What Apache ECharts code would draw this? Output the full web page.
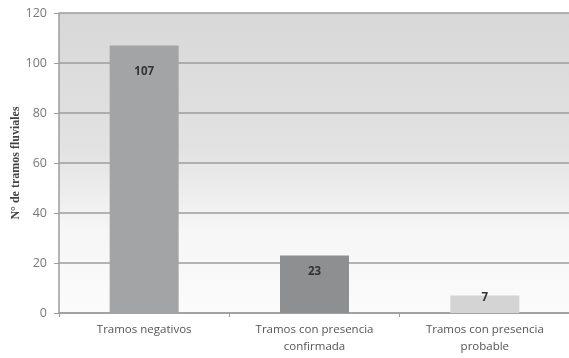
<!DOCTYPE html>
<html><head><meta charset="utf-8">
<script src="https://cdn.jsdelivr.net/npm/echarts@6/dist/echarts.min.js"></script>
<style>html,body{margin:0;padding:0;background:#fff}#c{width:569px;height:358px}</style>
</head><body><div id="c"></div>
<script>
const categories = ['Tramos negativos', 'Tramos con presencia\nconfirmada', 'Tramos con presencia\nprobable'];
const values = [107, 23, 7];
const yTicks = [0, 20, 40, 60, 80, 100, 120];
const barColors = ['#a3a4a6', '#8e8f91', '#d4d4d4'];
const labelDist = [20, 10, -4];

const chart = echarts.init(document.getElementById('c'), null, {renderer: 'canvas'});
chart.setOption({
  animation: false,
  grid: {left: 59, right: -1, top: 13, bottom: 45, show: true, borderWidth: 0,
    outerBoundsMode: 'none', containLabel: false,
    backgroundColor: {type: 'linear', x: 0, y: 0, x2: 0, y2: 1, colorStops: [
      {offset: 0, color: '#d8d8d8'}, {offset: 0.45, color: '#e2e2e2'},
      {offset: 0.72, color: '#f6f6f6'}, {offset: 1, color: '#fbfbfb'}]}},
  xAxis: {type: 'category', data: categories,
    axisLine: {lineStyle: {color: '#9c9c9c', width: 1.5}},
    axisTick: {show: true, length: 4, lineStyle: {color: '#9c9c9c'}},
    axisLabel: {color: '#555', fontSize: 11.5, fontFamily: 'Open Sans', lineHeight: 17, margin: 8}},
  yAxis: {type: 'value', min: yTicks[0], max: yTicks[yTicks.length - 1], interval: 20,
    name: 'N° de tramos fluviales', nameLocation: 'middle', nameGap: 37, nameMoveOverlap: false,
    nameTextStyle: {fontFamily: 'Liberation Serif', fontWeight: 'bold', fontSize: 12, color: '#444'},
    axisLine: {show: true, lineStyle: {color: '#9c9c9c', width: 1.5}},
    axisTick: {show: true, length: 5, lineStyle: {color: '#9c9c9c'}},
    axisLabel: {color: '#777', fontSize: 12.5, fontFamily: 'Open Sans', margin: 12},
    splitLine: {lineStyle: {color: '#9c9c9c', width: 1.5}}},
  series: [{type: 'bar', barWidth: 69,
    data: values.map((v, i) => ({value: v, itemStyle: {color: barColors[i]},
      label: {distance: labelDist[i]}})),
    label: {show: true, position: 'insideTop', color: '#333', fontWeight: 'bold',
      fontSize: 11.5, fontFamily: 'Open Sans'}}]
});
</script></body></html>
